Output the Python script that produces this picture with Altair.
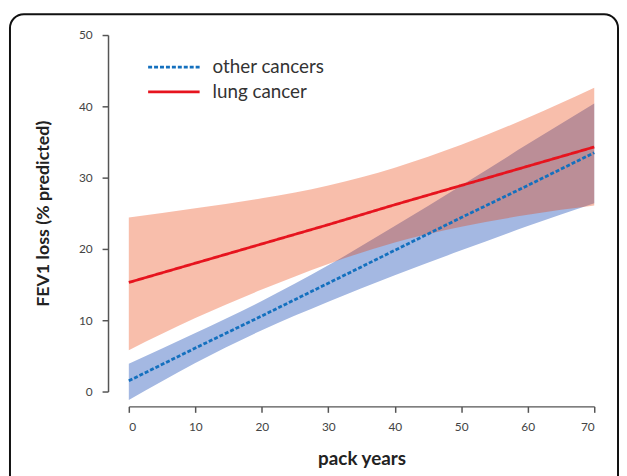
import altair as alt
import pandas as pd

# ---- data ----
pack_years = [0, 10, 20, 30, 40, 50, 60, 70]
lung_fit = [15.3, 18.0, 20.7, 23.4, 26.2, 28.9, 31.6, 34.3]
lung_upper = [24.4, 25.7, 27.1, 28.9, 31.4, 34.6, 38.4, 42.6]
lung_lower = [5.8, 10.3, 14.3, 17.9, 20.9, 23.1, 24.8, 26.1]
other_fit = [1.5, 6.1, 10.6, 15.2, 19.8, 24.4, 28.9, 33.5]
other_upper = [3.9, 8.2, 12.7, 17.7, 23.2, 28.9, 34.7, 40.4]
other_lower = [-1.2, 4.0, 8.6, 12.6, 16.3, 19.8, 23.2, 26.4]
series_names = ["other cancers", "lung cancer"]
x_ticks = [0, 10, 20, 30, 40, 50, 60, 70]
y_ticks = [0, 10, 20, 30, 40, 50]

FONT = "Lato"
BLUE_LINE = "#1470BE"
RED_LINE = "#E6141E"

bands_other = pd.DataFrame({"x": pack_years, "lo": other_lower, "hi": other_upper})
bands_lung = pd.DataFrame({"x": pack_years, "lo": lung_lower, "hi": lung_upper})
lines = pd.DataFrame({
    "x": pack_years + pack_years,
    "y": other_fit + lung_fit,
    "group": [series_names[0]] * len(pack_years) + [series_names[1]] * len(pack_years),
})

xscale = alt.Scale(domain=[0, 70], nice=False, zero=False)
yscale = alt.Scale(domain=[0, 50], nice=False, zero=False)

xaxis = alt.Axis(values=x_ticks, offset=15, labelPadding=9, title="pack years",
                 titleFontSize=19, titlePadding=18)
yaxis = alt.Axis(values=y_ticks, offset=21, labelPadding=10, title="FEV1 loss (% predicted)",
                 titleFontSize=18, titlePadding=26)

frame = alt.Chart(alt.Data(values=[{}])).mark_rect(
    fill="transparent", stroke="#111", strokeWidth=2, cornerRadius=14
).encode(x=alt.value(-120), x2=alt.value(494), y=alt.value(-21), y2=alt.value(520))

area_other = alt.Chart(bands_other).mark_area(
    color="#A4B8E2", opacity=1, interpolate="monotone"
).encode(
    x=alt.X("x:Q", scale=xscale, axis=xaxis),
    y=alt.Y("lo:Q", scale=yscale, axis=yaxis),
    y2="hi:Q",
)

area_lung = alt.Chart(bands_lung).mark_area(
    color="#E93A00", opacity=0.33, interpolate="monotone"
).encode(
    x=alt.X("x:Q", scale=xscale),
    y=alt.Y("lo:Q", scale=yscale),
    y2="hi:Q",
)

line_layer = alt.Chart(lines).mark_line(strokeWidth=2.8).encode(
    x=alt.X("x:Q", scale=xscale),
    y=alt.Y("y:Q", scale=yscale),
    color=alt.Color("group:N", scale=alt.Scale(domain=series_names, range=[BLUE_LINE, RED_LINE]),
                    legend=alt.Legend(title=None)),
    strokeDash=alt.StrokeDash("group:N", scale=alt.Scale(domain=series_names, range=[[4, 2], [1, 0]]),
                              legend=alt.Legend(title=None)),
)

chart = alt.layer(frame, area_other, area_lung, line_layer).properties(
    width=470, height=360,
    autosize=alt.AutoSizeParams(type="none"),
    padding={"left": 122, "top": 25, "right": 25, "bottom": 83},
).configure_view(strokeWidth=0).configure_axis(
    grid=False, domainColor="#555", domainWidth=1.5, tickColor="#555", tickWidth=1.5,
    tickSize=6, labelColor="#444", labelFont=FONT, labelFontSize=12,
    titleFont=FONT, titleFontWeight="bold", titleColor="#222",
).configure_legend(
    orient="none", legendX=36, legendY=23, symbolType="M-4,0H4", symbolSize=169,
    symbolStrokeWidth=2.8, labelFont=FONT, labelFontSize=19, labelColor="#333",
    labelOffset=29.5, rowPadding=5, padding=0,
)

chart.save("out.html", embed_options={"renderer": "svg", "actions": False})
